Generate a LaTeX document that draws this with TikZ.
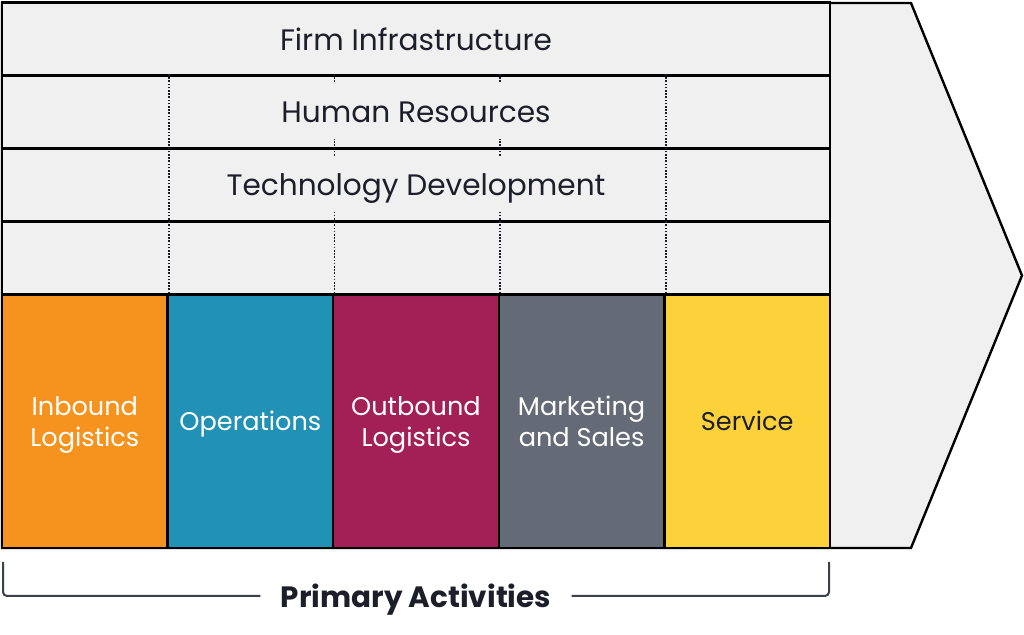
\documentclass[tikz,border=0pt]{standalone}
\usepackage{fontspec}
\setmainfont{Poppins}
\usetikzlibrary{positioning}

\definecolor{paneGray}{HTML}{F0F0F0}
\definecolor{inkDark}{HTML}{1C1E29}
\definecolor{inOrange}{HTML}{F6931E}
\definecolor{opsTeal}{HTML}{2192B6}
\definecolor{outMaroon}{HTML}{A22055}
\definecolor{mktGray}{HTML}{656A77}
\definecolor{svcYellow}{HTML}{FCD13A}

\begin{document}
\begin{tikzpicture}[x=0.5pt,y=-0.5pt,
    rowbox/.style={draw=black, line width=1.2pt, fill=paneGray,
      minimum width=414pt, minimum height=36.5pt, inner sep=0pt},
    supportlabel/.style={fill=paneGray, text=inkDark, inner xsep=1pt,
      text depth=0pt, minimum height=27.5pt, font=\fontsize{14.8}{17}\selectfont},
    primary/.style={draw=black, line width=1.2pt, minimum width=82.8pt,
      minimum height=126.75pt, inner sep=0pt, align=center, text=white,
      text depth=0pt, font=\fontsize{12.8}{15.5}\selectfont},
    divider/.style={draw=inkDark, line width=0.9pt, dash pattern=on 0.8pt off 0.8pt},
    bracket/.style={draw=inkDark!85, line width=1pt, rounded corners=2pt}]

\fill[white] (0,0) rectangle (1024,635);
\useasboundingbox (0,0) rectangle (1024,635);

% arrow body behind the chain
\draw[line width=1.2pt, fill=paneGray, line join=miter]
  (2,3) -- (911,3) -- (1022,275.5) -- (911,548) -- (2,548) -- cycle;

% support activities
\node[rowbox] (firm) at (416,39) {};
\node[rowbox] (hr) at (416,112) {};
\node[rowbox] (tech) at (416,185) {};
\node[rowbox] (blank) at (416,258) {};

% primary activities
\node[primary, fill=inOrange] (inbound) at (84.8,421.25) {Inbound\\Logistics};
\node[primary, fill=opsTeal] (ops) at (250.4,421.25) {Operations};
\node[primary, fill=outMaroon] (outbound) at (416,421.25) {Outbound\\Logistics};
\node[primary, fill=mktGray] (mkt) at (581.6,421.25) {Marketing\\and Sales};
\node[primary, fill=svcYellow, text=inkDark] (service) at (747.2,421.25) {Service};

% dotted column lines
\foreach \col in {inbound, ops, outbound, mkt}
  \draw[divider] (\col.north east) -- (\col.north east |- hr.north);

\node[supportlabel, fill=none] at (firm) {Firm Infrastructure};
\node[supportlabel] at (hr) {Human Resources};
\node[supportlabel] at (tech) {Technology Development};

% bracket under the primary activities
\node[font=\fontsize{14.7}{17}\selectfont\bfseries, text=inkDark, inner xsep=10pt,
  text depth=0pt] (primlabel) at (416,596) {Primary Activities};
\coordinate (bracketL) at (3,562);
\coordinate (bracketR) at (829,562);
\draw[bracket] (bracketL) -- (bracketL |- primlabel) -- (primlabel.west);
\draw[bracket] (primlabel.east) -- (bracketR |- primlabel) -- (bracketR);
\end{tikzpicture}
\end{document}
